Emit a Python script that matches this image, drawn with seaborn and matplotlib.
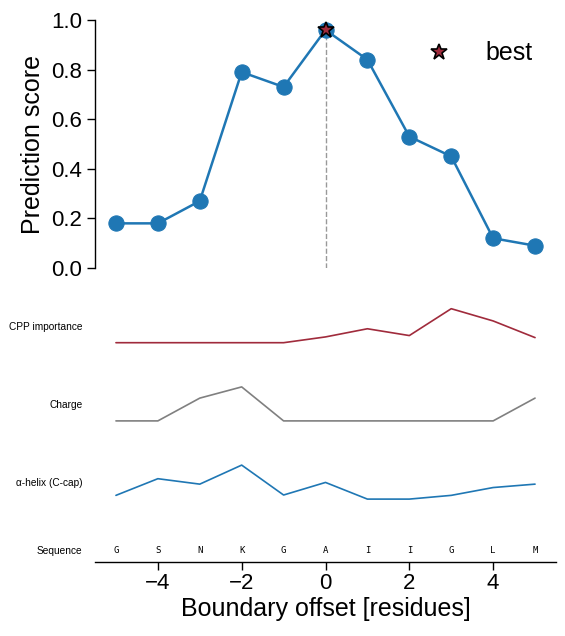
import numpy as np
import pandas as pd
import matplotlib
matplotlib.use("Agg")
import matplotlib.pyplot as plt
import seaborn as sns

# data
offsets = [-5, -4, -3, -2, -1, 0, 1, 2, 3, 4, 5]
scores = [0.18, 0.18, 0.27, 0.79, 0.73, 0.96, 0.84, 0.53, 0.45, 0.12, 0.09]
sequence = ["G", "S", "N", "K", "G", "A", "I", "I", "G", "L", "M"]
best_offset = 0
best_score = 0.96

# per-residue tracks (normalised 0..1)
cpp_importance = [0.0, 0.0, 0.0, 0.0, 0.0, 0.17, 0.41, 0.21, 1.0, 0.64, 0.15]
charge = [0.0, 0.0, 0.67, 1.0, 0.0, 0.0, 0.0, 0.0, 0.0, 0.0, 0.67]
helix_ccap = [0.11, 0.60, 0.44, 1.0, 0.12, 0.49, 0.0, 0.0, 0.11, 0.34, 0.44]

track_names = ["CPP importance", "Charge", "\u03b1-helix (C-cap)"]
track_values = [cpp_importance, charge, helix_ccap]
track_colors = ["#a02b3c", "#808080", "#1f77b4"]
track_base = [6.45, 4.15, 1.85]

sns.set_theme(style="white")
plt.rcParams['font.family'] = ['Liberation Sans', 'DejaVu Sans']
plt.rcParams.update({"text.color": "black", "axes.labelcolor": "black",
                     "xtick.color": "black", "ytick.color": "black"})

fig = plt.figure(figsize=(5.65, 6.36), dpi=100)
ax1 = fig.add_axes([95 / 565, 1 - 268 / 636, 461 / 565, 248 / 636])
ax2 = fig.add_axes([95 / 565, 74 / 636, 461 / 565, 272 / 636])

# top: prediction score
ax1.vlines(best_offset, 0, best_score, colors="#999999", linestyles="--", linewidth=1, zorder=1)
sns.lineplot(x=offsets, y=scores, marker="o", markersize=11, color="#1f77b4",
             linewidth=1.8, markeredgecolor="#1f77b4", ax=ax1, zorder=2)
ax1.plot([best_offset], [best_score], marker="*", markersize=12, color="#a02b3c",
         markeredgecolor="black", markeredgewidth=1.2, ls="none", label="best", zorder=3)
ax1.set_xlim(-5.5, 5.5)
ax1.set_ylim(0, 1.0)
ax1.set_yticks([0.0, 0.2, 0.4, 0.6, 0.8, 1.0])
ax1.set_yticklabels(["0.0", "0.2", "0.4", "0.6", "0.8", "1.0"])
ax1.set_xticks([])
ax1.set_ylabel("Prediction score", fontsize=18)
ax1.tick_params(axis="y", labelsize=16, length=6, width=1, direction="out", left=True)
for s in ["top", "right", "bottom"]:
    ax1.spines[s].set_visible(False)
ax1.spines["left"].set_color("black")
ax1.spines["left"].set_linewidth(1)
ax1.legend(loc="upper right", bbox_to_anchor=(0.998, 1.005), frameon=False, fontsize=18,
           handletextpad=0.85, markerscale=1.0)

# bottom: residue tracks
for name, vals, col, base in zip(track_names, track_values, track_colors, track_base):
    sns.lineplot(x=offsets, y=np.array(vals) + base, color=col, linewidth=1.2, ax=ax2)
for x, aa in zip(offsets, sequence):
    ax2.text(x, 0.35, aa, ha="center", va="center", fontsize=6.5, family="DejaVu Sans Mono")
ax2.set_xlim(-5.5, 5.5)
ax2.set_ylim(0, 8)
ax2.set_yticks([0.35] + [b + 0.5 for b in track_base])
ax2.set_yticklabels(["Sequence"] + track_names, fontsize=7.3)
ax2.tick_params(axis="y", length=0, pad=9)
ax2.set_xticks([-4, -2, 0, 2, 4])
ax2.set_xticklabels(["\u22124", "\u22122", "0", "2", "4"])
ax2.tick_params(axis="x", labelsize=16, length=6, width=1, direction="out", bottom=True, pad=2)
ax2.set_xlabel("Boundary offset [residues]", fontsize=18, labelpad=2)
for s in ["top", "right", "left"]:
    ax2.spines[s].set_visible(False)
ax2.spines["bottom"].set_color("black")
ax2.spines["bottom"].set_linewidth(1)

fig.savefig("out.png", dpi=100)
